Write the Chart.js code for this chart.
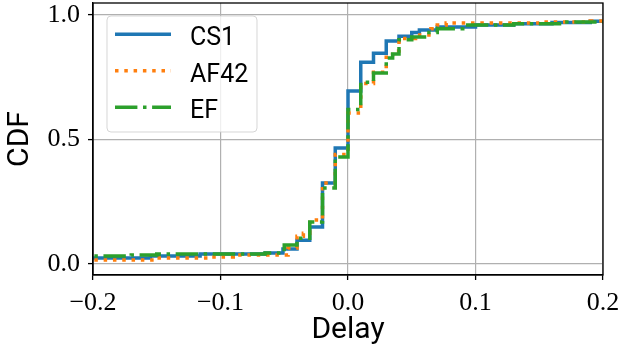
<!DOCTYPE html>
<html><head><meta charset="utf-8">
<script src="https://cdn.jsdelivr.net/npm/chart.js@4"></script>
<style>html,body{margin:0;padding:0;background:#fff;}</style>
</head><body>
<canvas id="c" width="622" height="358"></canvas>
<script>
// ---- data (step CDFs: value holds from x onward) ----
const seriesNames = ['CS1', 'AF42', 'EF'];
const cs1X = [-0.25, -0.155, -0.116, -0.065, -0.051, -0.04, -0.03, -0.02, -0.01, 0.0, 0.01, 0.02, 0.03, 0.04, 0.05, 0.056, 0.07, 0.1, 0.13, 0.16, 0.19, 0.25];
const cs1Y = [0.024, 0.032, 0.04, 0.044, 0.06, 0.096, 0.149, 0.325, 0.466, 0.695, 0.81, 0.846, 0.895, 0.915, 0.93, 0.94, 0.952, 0.96, 0.965, 0.97, 0.975, 0.975];
const af42X = [-0.25, -0.15, -0.11, -0.09, -0.047, -0.04, -0.035, -0.03, -0.02, -0.01, 0.0, 0.01, 0.02, 0.03, 0.035, 0.04, 0.053, 0.065, 0.07, 0.077, 0.15, 0.19, 0.25];
const af42Y = [0.016, 0.024, 0.028, 0.036, 0.064, 0.112, 0.124, 0.177, 0.325, 0.44, 0.606, 0.725, 0.77, 0.84, 0.855, 0.905, 0.92, 0.945, 0.96, 0.968, 0.972, 0.976, 0.976];
const efX = [-0.25, -0.17, -0.15, -0.065, -0.05, -0.04, -0.03, -0.02, -0.01, 0.0, 0.01, 0.02, 0.03, 0.035, 0.04, 0.05, 0.06, 0.07, 0.09, 0.13, 0.17, 0.25];
const efY = [0.032, 0.036, 0.04, 0.044, 0.076, 0.104, 0.169, 0.305, 0.43, 0.62, 0.73, 0.767, 0.827, 0.843, 0.9, 0.912, 0.93, 0.945, 0.96, 0.965, 0.972, 0.975];
const xTicks = [-0.2, -0.1, 0.0, 0.1, 0.2];
const xTickLabels = ['\u22120.2', '\u22120.1', '0.0', '0.1', '0.2'];
const yTicks = [0.0, 0.5, 1.0];
const yTickLabels = ['0.0', '0.5', '1.0'];
const xLabel = 'Delay';
const yLabel = 'CDF';

const toPts = (xs, ys) => xs.map((x, i) => ({x: x, y: ys[i]}));

const LW = 3.5;
const datasets = [
  {label: seriesNames[0], data: toPts(cs1X, cs1Y), borderColor: '#1f77b4', borderWidth: LW, borderDash: [], order: 2},
  {label: seriesNames[1], data: toPts(af42X, af42Y), borderColor: '#ff7f0e', borderWidth: LW, borderDash: [3.5, 5.8], order: 1},
  {label: seriesNames[2], data: toPts(efX, efY), borderColor: '#2ca02c', borderWidth: LW, borderDash: [22.4, 5.6, 3.5, 5.6], order: 0}
].map(d => Object.assign(d, {stepped: 'before', pointRadius: 0, fill: false, borderCapStyle: 'butt', borderJoinStyle: 'miter', clip: 0, tension: 0}));

const serif = "'Liberation Serif', 'DejaVu Serif', serif";
const sans = "Roboto, 'DejaVu Sans', sans-serif";

const zeroPad = s => { s.paddingTop = 0; s.paddingBottom = 0; s.paddingLeft = 0; s.paddingRight = 0; };

const framePlugin = {
  id: 'frameLegend',
  afterDraw(chart) {
    const {ctx, chartArea: a} = chart;
    ctx.save();
    ctx.strokeStyle = '#000';
    ctx.lineWidth = 1.3;
    ctx.setLineDash([]);
    ctx.strokeRect(a.left, a.top, a.right - a.left, a.bottom - a.top);
    // legend box
    const bx = 107, by = 16, bw = 150, bh = 116, r = 4;
    ctx.beginPath();
    ctx.moveTo(bx + r, by);
    ctx.arcTo(bx + bw, by, bx + bw, by + bh, r);
    ctx.arcTo(bx + bw, by + bh, bx, by + bh, r);
    ctx.arcTo(bx, by + bh, bx, by, r);
    ctx.arcTo(bx, by, bx + bw, by, r);
    ctx.closePath();
    ctx.fillStyle = 'rgba(255,255,255,0.8)';
    ctx.fill();
    ctx.strokeStyle = 'rgba(204,204,204,0.8)';
    ctx.lineWidth = 1;
    ctx.stroke();
    chart.data.datasets.forEach((ds, i) => {
      const ly = 34.3 + i * 36.5;
      ctx.beginPath();
      ctx.strokeStyle = ds.borderColor;
      ctx.lineWidth = ds.borderWidth;
      ctx.lineCap = 'butt';
      ctx.setLineDash(ds.borderDash);
      ctx.moveTo(115, ly);
      ctx.lineTo(171, ly);
      ctx.stroke();
      ctx.setLineDash([]);
      ctx.fillStyle = '#000';
      ctx.font = "25px " + sans;
      ctx.textBaseline = 'alphabetic';
      ctx.textAlign = 'left';
      ctx.fillText(ds.label, 190, ly + 11);
    });
    ctx.restore();
  }
};

new Chart(document.getElementById('c'), {
  type: 'line',
  data: {datasets: datasets},
  options: {
    responsive: false,
    devicePixelRatio: 1,
    animation: false,
    layout: {padding: {left: 0, top: 3, right: 19, bottom: 0}},
    plugins: {legend: {display: false}, tooltip: {enabled: false}},
    scales: {
      x: {
        type: 'linear', min: -0.2, max: 0.2,
        afterBuildTicks: s => { s.ticks = xTicks.map(v => ({value: v})); },
        afterFit: s => { s.height = 83; zeroPad(s); },
        ticks: {callback: (v, i) => xTickLabels[i], font: {family: serif, size: 26}, color: '#000', padding: 8, maxRotation: 0, autoSkip: false},
        grid: {color: '#b0b0b0', lineWidth: 1.2, tickColor: '#000', tickWidth: 1.3, tickLength: 5},
        border: {display: true, color: '#000', width: 1.3},
        title: {display: true, text: xLabel, font: {family: sans, size: 30, lineHeight: 1}, color: '#000', padding: {top: 0, bottom: 13}}
      },
      y: {
        type: 'linear', min: -0.044, max: 1.048,
        afterBuildTicks: s => { s.ticks = yTicks.map(v => ({value: v})); },
        afterFit: s => { s.width = 93; zeroPad(s); },
        ticks: {callback: (v, i) => yTickLabels[i], font: {family: serif, size: 26}, color: '#000', padding: 8, autoSkip: false},
        grid: {color: '#b0b0b0', lineWidth: 1.2, tickColor: '#000', tickWidth: 1.3, tickLength: 5},
        border: {display: true, color: '#000', width: 1.3},
        title: {display: true, text: yLabel, font: {family: sans, size: 30, lineHeight: 1}, color: '#000', padding: {top: 5, bottom: 0}}
      }
    }
  },
  plugins: [framePlugin]
});
</script>
</body></html>
